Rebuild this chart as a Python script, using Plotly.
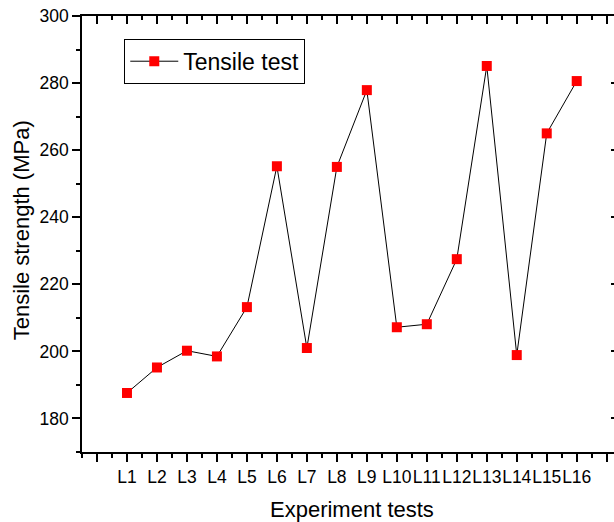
import plotly.graph_objects as go

categories = ["L1", "L2", "L3", "L4", "L5", "L6", "L7", "L8",
              "L9", "L10", "L11", "L12", "L13", "L14", "L15", "L16"]
tensile = [187.6, 195.2, 200.2, 198.5, 213.2, 255.2, 201.0, 255.0,
           277.9, 207.2, 208.1, 227.5, 285.1, 198.9, 265.0, 280.6]
positions = list(range(1, len(categories) + 1))

major_x = list(range(0, 18))
major_text = [""] + categories + [""]
minor_x = [v + 0.5 for v in range(-1, 18)]

FONT = "Arial, Liberation Sans, sans-serif"
L, T, B = 81.7, 15.7, 69.7
W, H = 614, 522
plot_w = W - L
plot_h = H - T - B
x_left = -0.5
x_right = x_left + plot_w / 30.0

fig = go.Figure()
fig.add_trace(go.Scatter(
    x=positions, y=tensile, mode="lines+markers", name="Tensile test",
    line=dict(color="black", width=1),
    marker=dict(symbol="square", size=10, color="#ff0000"),
))
# invisible trace to activate top/right axes
fig.add_trace(go.Scatter(x=[None], y=[None], xaxis="x2", yaxis="y2",
                         showlegend=False, hoverinfo="skip"))

axis_common = dict(showgrid=False, zeroline=False, linecolor="black",
                   linewidth=1.5, tickcolor="black", tickwidth=1.5,
                   automargin=False, tickangle=0,
                   tickfont=dict(family=FONT, size=17.5, color="black"))

fig.update_layout(
    width=W, height=H,
    margin=dict(l=L, r=0, t=T, b=B, autoexpand=False),
    paper_bgcolor="white", plot_bgcolor="white",
    font=dict(family=FONT, color="black"),
    xaxis=dict(range=[x_left, x_right], showline=True, ticks="outside",
               ticklen=8, tickmode="array", tickvals=major_x, ticktext=major_text,
               minor=dict(tickvals=minor_x, ticks="outside", ticklen=4,
                          tickcolor="black", tickwidth=1.5),
               **axis_common),
    xaxis2=dict(range=[x_left, x_right], overlaying="x", side="top",
                anchor="y", showline=True, ticks="inside", ticklen=8,
                tickmode="array", tickvals=major_x, showticklabels=False,
                minor=dict(tickvals=minor_x, ticks="inside", ticklen=4,
                           tickcolor="black", tickwidth=1.5),
                **axis_common),
    yaxis=dict(range=[170, 300], showline=True, ticks="outside", ticklen=8,
               tickmode="linear", tick0=180, dtick=20,
               minor=dict(tick0=170, dtick=10, ticks="outside", ticklen=4,
                          tickcolor="black", tickwidth=1.5),
               **axis_common),
    yaxis2=dict(range=[170, 300], overlaying="y", side="right", anchor="x",
                showline=False, ticks="inside", ticklen=3,
                tickmode="linear", tick0=180, dtick=20, showticklabels=False,
                **axis_common),
    legend=dict(x=(124 - L) / plot_w, y=1 - (38.5 - T) / plot_h,
                xanchor="left", yanchor="top",
                bgcolor="white", bordercolor="black", borderwidth=1,
                font=dict(family=FONT, size=23, color="black"),
                itemwidth=48),
    annotations=[
        dict(text="Experiment tests", xref="x", yref="paper",
             x=8.5, y=-(510 - (T + plot_h)) / plot_h,
             xanchor="center", yanchor="middle", showarrow=False,
             font=dict(family=FONT, size=22, color="black")),
        dict(text="Tensile strength (MPa)", xref="paper", yref="paper",
             x=(21 - L) / plot_w, y=1 - (230 - T) / plot_h, textangle=-90,
             xanchor="center", yanchor="middle", showarrow=False,
             font=dict(family=FONT, size=22, color="black")),
    ],
)

fig.write_html("out.html", config={"displayModeBar": False},
               post_script="document.body.style.margin='0';")
